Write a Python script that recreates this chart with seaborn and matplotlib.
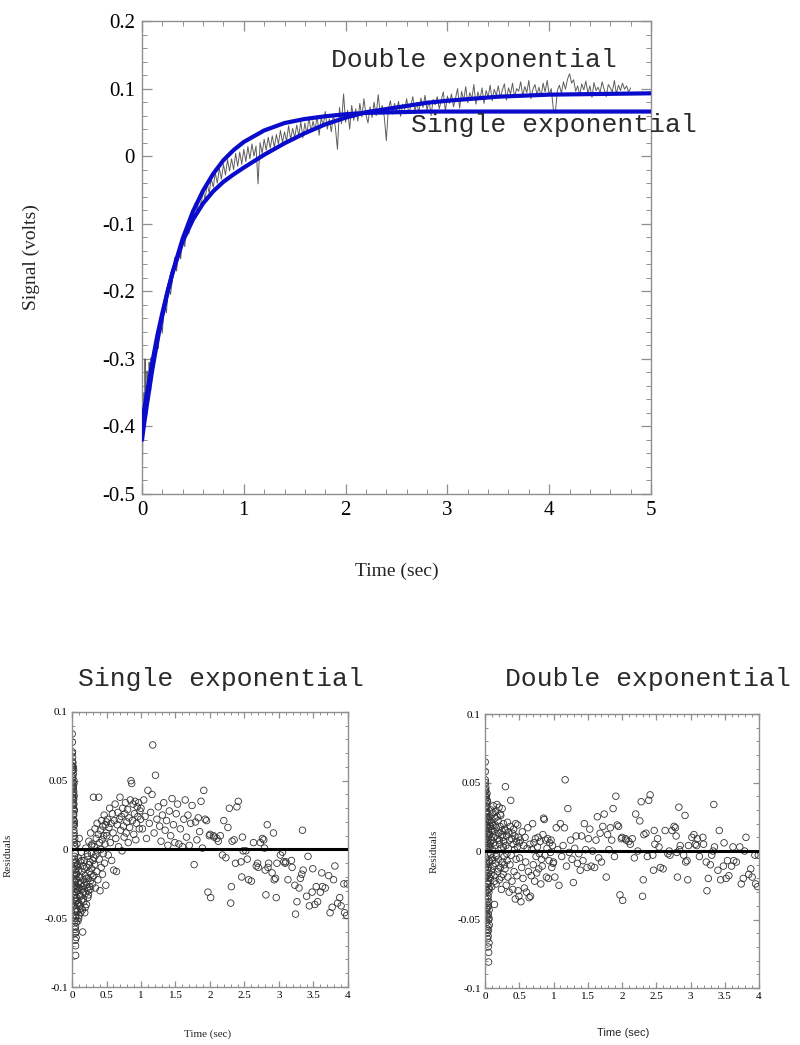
import matplotlib
matplotlib.use("Agg")
import matplotlib.pyplot as plt
import seaborn as sns
import pandas as pd
from matplotlib.ticker import MultipleLocator, FuncFormatter

# ---------------- top panel: recorded signal ----------------
sig_t = [0.000, 0.005, 0.010, 0.015, 0.020, 0.025, 0.030, 0.035, 0.040, 0.045,
         0.050, 0.055, 0.060, 0.065, 0.070, 0.075, 0.080, 0.085, 0.090, 0.095,
         0.10, 0.12, 0.14, 0.16, 0.18, 0.20, 0.22, 0.24, 0.26, 0.28,
         0.30, 0.32, 0.34, 0.36, 0.38, 0.40, 0.42, 0.44, 0.46, 0.48,
         0.50, 0.52, 0.54, 0.56, 0.58, 0.60, 0.62, 0.64, 0.66, 0.68,
         0.70, 0.72, 0.74, 0.76, 0.78, 0.80, 0.82, 0.84, 0.86, 0.88,
         0.90, 0.92, 0.94, 0.96, 0.98, 1.00, 1.02, 1.04, 1.06, 1.08,
         1.10, 1.12, 1.14, 1.16, 1.18, 1.20, 1.22, 1.24, 1.26, 1.28,
         1.30, 1.32, 1.34, 1.36, 1.38, 1.40, 1.42, 1.44, 1.46, 1.48,
         1.50, 1.52, 1.54, 1.56, 1.58, 1.60, 1.62, 1.64, 1.66, 1.68,
         1.70, 1.72, 1.74, 1.76, 1.78, 1.80, 1.82, 1.84, 1.86, 1.88,
         1.90, 1.92, 1.94, 1.96, 1.98, 2.00, 2.02, 2.04, 2.06, 2.08,
         2.10, 2.12, 2.14, 2.16, 2.18, 2.20, 2.22, 2.24, 2.26, 2.28,
         2.30, 2.32, 2.34, 2.36, 2.38, 2.40, 2.42, 2.44, 2.46, 2.48,
         2.50, 2.52, 2.54, 2.56, 2.58, 2.60, 2.62, 2.64, 2.66, 2.68,
         2.70, 2.72, 2.74, 2.76, 2.78, 2.80, 2.82, 2.84, 2.86, 2.88,
         2.90, 2.92, 2.94, 2.96, 2.98, 3.00, 3.02, 3.04, 3.06, 3.08,
         3.10, 3.12, 3.14, 3.16, 3.18, 3.20, 3.22, 3.24, 3.26, 3.28,
         3.30, 3.32, 3.34, 3.36, 3.38, 3.40, 3.42, 3.44, 3.46, 3.48,
         3.50, 3.52, 3.54, 3.56, 3.58, 3.60, 3.62, 3.64, 3.66, 3.68,
         3.70, 3.72, 3.74, 3.76, 3.78, 3.80, 3.82, 3.84, 3.86, 3.88,
         3.90, 3.92, 3.94, 3.96, 3.98, 4.00, 4.02, 4.04, 4.06, 4.08,
         4.10, 4.12, 4.14, 4.16, 4.18, 4.20, 4.22, 4.24, 4.26, 4.28,
         4.30, 4.32, 4.34, 4.36, 4.38, 4.40, 4.42, 4.44, 4.46, 4.48,
         4.50, 4.52, 4.54, 4.56, 4.58, 4.60, 4.62, 4.64, 4.66, 4.68,
         4.70, 4.72, 4.74, 4.76, 4.78, 4.80]
sig_v = [-0.395, -0.455, -0.372, -0.418, -0.350, -0.390, -0.300, -0.362, -0.341, -0.385,
         -0.318, -0.355, -0.330, -0.362, -0.305, -0.338, -0.320, -0.347, -0.298, -0.330,
         -0.298, -0.312, -0.270, -0.285, -0.240, -0.262, -0.215, -0.232, -0.190, -0.205,
         -0.182, -0.150, -0.170, -0.135, -0.152, -0.118, -0.134, -0.100, -0.115, -0.090,
         -0.095, -0.070, -0.085, -0.060, -0.076, -0.048, -0.066, -0.040, -0.055, -0.033,
         -0.046, -0.025, -0.040, -0.018, -0.034, -0.012, -0.028, -0.005, -0.022, -0.004,
         -0.020, 0.004, -0.015, 0.006, -0.012, 0.010, -0.008, 0.014, -0.004, 0.018,
         0.000, 0.015, -0.041, 0.020, 0.004, 0.025, 0.009, 0.028, 0.012, 0.030,
         0.013, 0.032, 0.018, 0.038, 0.020, 0.036, 0.022, 0.045, 0.025, 0.041,
         0.028, 0.046, 0.030, 0.051, 0.027, 0.049, 0.033, 0.058, 0.036, 0.052,
         0.038, 0.060, 0.031, 0.057, 0.045, 0.066, 0.040, 0.055, 0.036, 0.062,
         0.042, 0.010, 0.072, 0.048, 0.092, 0.050, 0.068, 0.040, 0.075, 0.053,
         0.070, 0.052, 0.078, 0.058, 0.085, 0.061, 0.049, 0.073, 0.057, 0.080,
         0.060, 0.091, 0.064, 0.075, 0.058, 0.023, 0.070, 0.082, 0.062, 0.078,
         0.066, 0.081, 0.059, 0.077, 0.069, 0.085, 0.063, 0.074, 0.088, 0.067,
         0.079, 0.064, 0.086, 0.072, 0.090, 0.068, 0.082, 0.060, 0.084, 0.076,
         0.088, 0.070, 0.083, 0.095, 0.066, 0.089, 0.078, 0.092, 0.073, 0.086,
         0.100, 0.071, 0.096, 0.082, 0.103, 0.079, 0.094, 0.085, 0.106, 0.077,
         0.095, 0.084, 0.101, 0.078, 0.097, 0.088, 0.105, 0.082, 0.099, 0.090,
         0.104, 0.086, 0.098, 0.107, 0.083, 0.101, 0.092, 0.108, 0.087, 0.100,
         0.096, 0.110, 0.089, 0.103, 0.094, 0.112, 0.085, 0.099, 0.106, 0.091,
         0.102, 0.088, 0.108, 0.095, 0.112, 0.091, 0.100, 0.070, 0.064, 0.097,
         0.105, 0.093, 0.110, 0.099, 0.114, 0.122, 0.108, 0.113, 0.096, 0.104,
         0.090, 0.107, 0.098, 0.111, 0.093, 0.104, 0.087, 0.109, 0.097, 0.102,
         0.094, 0.110, 0.099, 0.088, 0.106, 0.101, 0.095, 0.112, 0.092, 0.105,
         0.097, 0.108, 0.099, 0.104, 0.095, 0.101]

# fitted curves
fit_t = [0.0, 0.02, 0.05, 0.1, 0.15, 0.2, 0.25, 0.3, 0.4, 0.5,
         0.6, 0.7, 0.8, 0.9, 1.0, 1.2, 1.4, 1.6, 1.8, 2.0,
         2.2, 2.5, 2.8, 3.0, 3.5, 4.0, 4.5, 5.0]
fit_single = [-0.420, -0.397, -0.366, -0.317, -0.274, -0.236, -0.202, -0.172, -0.122, -0.082,
              -0.051, -0.026, -0.006, 0.009, 0.021, 0.038, 0.049, 0.055, 0.059, 0.062,
              0.064, 0.065, 0.066, 0.066, 0.066, 0.066, 0.066, 0.066]
fit_double = [-0.393, -0.376, -0.350, -0.306, -0.266, -0.232, -0.201, -0.173, -0.126, -0.094,
              -0.070, -0.052, -0.038, -0.027, -0.017, 0.002, 0.019, 0.034, 0.047, 0.057,
              0.065, 0.072, 0.079, 0.082, 0.088, 0.091, 0.092, 0.093]

# ---------------- residuals (shared sample times) ----------------
res_t = [0.003, 0.004, 0.005, 0.006, 0.007, 0.008, 0.009, 0.010, 0.011, 0.012,
         0.013, 0.014, 0.015, 0.016, 0.017, 0.018, 0.019, 0.020, 0.021, 0.022,
         0.023, 0.024, 0.025, 0.026, 0.027, 0.028, 0.029, 0.030, 0.031, 0.032,
         0.033, 0.034, 0.035, 0.036, 0.037, 0.038, 0.039, 0.040, 0.041, 0.042,
         0.043, 0.044, 0.045, 0.046, 0.047, 0.048, 0.049, 0.050, 0.051, 0.052,
         0.053, 0.054, 0.055, 0.056, 0.057, 0.058, 0.059, 0.060, 0.061, 0.062,
         0.065, 0.068, 0.071, 0.074, 0.077, 0.080, 0.083, 0.086, 0.089, 0.092,
         0.095, 0.098, 0.101, 0.104, 0.107, 0.110,
         0.114, 0.118, 0.122, 0.126, 0.130, 0.134, 0.138, 0.142, 0.146, 0.150,
         0.154, 0.158, 0.162, 0.166, 0.170,
         0.175, 0.180, 0.185, 0.190, 0.195, 0.200, 0.205, 0.210, 0.215, 0.220,
         0.225, 0.230, 0.235, 0.240, 0.245, 0.250, 0.255, 0.260, 0.265, 0.270,
         0.275, 0.280,
         0.286, 0.292, 0.298, 0.304, 0.310, 0.316, 0.322, 0.328, 0.334, 0.340,
         0.346, 0.352, 0.358, 0.364, 0.370, 0.376, 0.382, 0.388, 0.394, 0.400,
         0.406, 0.412, 0.418, 0.424, 0.430, 0.436, 0.442, 0.448, 0.454, 0.460,
         0.466, 0.472, 0.478, 0.484, 0.490, 0.495, 0.500,
         0.505, 0.515, 0.525, 0.535, 0.545, 0.555, 0.565, 0.575, 0.585, 0.595,
         0.605, 0.615, 0.625, 0.635, 0.645, 0.655, 0.665, 0.675, 0.685, 0.695,
         0.705, 0.715, 0.725, 0.735, 0.745, 0.755, 0.765, 0.775, 0.785, 0.795,
         0.805, 0.815, 0.825, 0.835, 0.845, 0.855, 0.865, 0.875, 0.885, 0.895,
         0.905, 0.915, 0.925, 0.935, 0.945, 0.955, 0.965, 0.975, 0.985, 0.995,
         1.00, 1.02, 1.04, 1.06, 1.08, 1.10, 1.12, 1.14, 1.16, 1.17,
         1.19, 1.21, 1.23, 1.25, 1.27, 1.29, 1.31, 1.33, 1.35, 1.37,
         1.39, 1.41, 1.43, 1.45, 1.47, 1.49, 1.51, 1.53, 1.55, 1.57,
         1.60, 1.62, 1.64, 1.66, 1.68, 1.70, 1.72, 1.74, 1.77, 1.79,
         1.81, 1.83, 1.85, 1.87, 1.89, 1.91, 1.93, 1.95, 1.97, 1.99,
         2.00, 2.01, 2.05, 2.06, 2.10, 2.12, 2.15, 2.18, 2.20, 2.23,
         2.26, 2.28, 2.30, 2.31, 2.32, 2.35, 2.37, 2.39, 2.41, 2.45,
         2.46, 2.47, 2.48, 2.52, 2.54, 2.56, 2.60, 2.63, 2.67, 2.69,
         2.70, 2.73, 2.76, 2.78, 2.79, 2.80, 2.81, 2.83, 2.84, 2.85,
         2.90, 2.92, 2.93, 2.95, 2.96, 2.97, 3.02, 3.05, 3.07, 3.09,
         3.10, 3.13, 3.18, 3.19, 3.23, 3.24, 3.26, 3.29, 3.31, 3.33,
         3.34, 3.35, 3.40, 3.42, 3.44, 3.48, 3.49, 3.52, 3.54, 3.56,
         3.60, 3.62, 3.63, 3.67, 3.72, 3.74, 3.77, 3.79, 3.81, 3.85,
         3.88, 3.90, 3.94, 3.95, 3.98, 3.99,
         0.0035, 0.0055, 0.0075, 0.0095, 0.0115, 0.0135, 0.0155, 0.0175, 0.0195, 0.0215,
         0.0235, 0.0255, 0.0275, 0.0295, 0.0315, 0.0335, 0.0355, 0.0375, 0.0395, 0.0415,
         0.0435, 0.0455, 0.0475, 0.0495, 0.0515, 0.0535, 0.0555, 0.0575, 0.0595, 0.0615,
         0.072, 0.079, 0.088, 0.097, 0.106, 0.116, 0.128, 0.140, 0.152, 0.164,
         0.177, 0.192, 0.207, 0.222, 0.237, 0.252, 0.268, 0.283, 0.301, 0.319]

res_single = [0.084, 0.061, 0.078, 0.052, 0.071, 0.045, 0.067, 0.058, 0.038, 0.063,
              0.049, 0.034, 0.060, 0.041, 0.022, 0.055, 0.030, 0.046, 0.019, 0.036,
              0.058, 0.025, 0.042, 0.014, 0.033, 0.050, 0.021, 0.010, 0.039, 0.028,
              0.005, -0.012, 0.018, -0.027, -0.005, -0.041, 0.008, -0.019, -0.052, -0.033,
              0.002, -0.061, -0.024, -0.045, -0.010, -0.066, -0.036, -0.003, -0.056, -0.029,
              -0.077, -0.014, -0.048, -0.038, -0.060, -0.021, -0.043, -0.031, -0.053, -0.017,
              -0.018, -0.035, 0.004, -0.027, -0.045, -0.011, -0.030, -0.052, -0.006, -0.024,
              -0.039, -0.015, -0.048, 0.008, -0.028, -0.041,
              -0.020, -0.033, -0.009, -0.046, -0.025, -0.002, -0.037, -0.016, -0.029, -0.044,
              -0.060, -0.012, -0.031, -0.022, -0.038,
              -0.026, -0.008, -0.046, -0.019, -0.032, 0.001, -0.024, -0.040, -0.013, -0.028,
              -0.005, -0.035, -0.021, -0.030, 0.006, -0.016, -0.027, -0.009, -0.023, 0.012,
              -0.018, -0.003,
              -0.014, 0.004, -0.025, -0.008, 0.038, -0.019, 0.002, -0.011, 0.015, -0.028,
              -0.004, 0.008, -0.016, 0.019, -0.001, -0.022, 0.011, 0.038, -0.007, 0.005,
              -0.030, 0.014, 0.000, -0.013, 0.021, 0.007, -0.018, 0.017, -0.003, 0.010,
              0.025, -0.010, 0.004, 0.018, -0.026, 0.012, 0.020,
              0.010, 0.022, -0.004, 0.016, 0.030, 0.005, 0.019, -0.008, 0.026, 0.012,
              -0.015, 0.021, 0.033, 0.008, -0.016, 0.018, 0.027, 0.002, 0.022, 0.038,
              0.014, 0.024, -0.001, 0.030, 0.017, 0.009, 0.026, 0.034, 0.012, 0.020,
              0.029, 0.005, 0.023, 0.016, 0.036, 0.050, 0.048, 0.021, 0.033, 0.011,
              0.026, 0.035, 0.007, 0.019, 0.031, 0.024, 0.034, 0.015, 0.028, 0.022,
              0.030, 0.015, 0.036, 0.024, 0.008, 0.043, 0.019, 0.027, 0.040, 0.076,
              0.012, 0.054, 0.022, 0.031, 0.017, 0.006, 0.025, 0.034, 0.014, 0.021,
              0.003, 0.028, 0.010, 0.037, 0.018, 0.005, 0.026, 0.033, 0.004, 0.015,
              0.002, 0.022, 0.036, 0.009, 0.025, 0.003, 0.019, 0.032, -0.011, 0.020,
              0.007, 0.023, 0.013, 0.035, 0.001, 0.043, 0.022, 0.021, -0.031, 0.010,
              0.011, -0.035, 0.010, 0.009, 0.008, 0.006, 0.010, -0.004, 0.021, -0.006,
              0.016, 0.030, -0.039, -0.027, 0.006, 0.007, -0.010, 0.031, 0.035, -0.009,
              -0.020, 0.009, -0.001, -0.001, -0.007, -0.022, -0.023, 0.005, -0.012, -0.010,
              -0.013, 0.005, 0.008, 0.007, 0.001, -0.015, -0.033, 0.018, -0.013, -0.010,
              -0.017, 0.012, -0.022, -0.021, -0.035, -0.010, -0.004, -0.002, -0.009, -0.010,
              -0.009, -0.022, -0.008, -0.013, -0.026, -0.047, -0.038, -0.028, -0.021, -0.018,
              0.014, -0.015, -0.034, -0.005, -0.041, -0.031, -0.014, -0.040, -0.027, -0.038,
              -0.031, -0.017, -0.027, -0.028, -0.019, -0.046, -0.042, -0.022, -0.012, -0.039,
              -0.035, -0.041, -0.025, -0.046, -0.048, -0.025,
              0.070, 0.057, 0.064, 0.047, 0.053, 0.040, 0.060, 0.032, 0.044, 0.026,
              0.037, 0.017, 0.048, 0.012, 0.029, -0.007, 0.020, -0.023, 0.003, -0.035,
              -0.015, -0.058, -0.026, -0.044, -0.070, -0.009, -0.050, -0.037, -0.064, -0.022,
              -0.012, -0.040, -0.028, -0.050, -0.020, -0.034, -0.043, -0.008, -0.027, -0.036,
              -0.014, -0.042, -0.021, -0.003, -0.033, -0.011, -0.029, 0.003, -0.020, -0.006]

res_double = [0.065, 0.058, 0.031, -0.012, 0.050, 0.044, -0.035, 0.022, 0.047, -0.005,
              0.038, 0.015, -0.026, 0.041, 0.028, -0.044, 0.035, 0.009, -0.018, 0.025,
              -0.052, 0.032, 0.004, -0.038, 0.019, -0.009, 0.042, -0.029, 0.012, -0.060,
              0.027, -0.048, 0.006, -0.022, 0.036, -0.064, -0.014, 0.017, -0.041, -0.002,
              -0.055, 0.023, -0.033, -0.070, 0.010, -0.046, -0.024, 0.003, -0.058, -0.081,
              -0.016, -0.037, 0.014, -0.050, -0.030, -0.067, -0.007, -0.043, -0.027, -0.054,
              0.012, -0.008, 0.025, 0.003, -0.020, 0.018, -0.002, 0.030, -0.014, 0.008,
              0.021, -0.026, 0.015, -0.005, 0.027, 0.001,
              0.019, -0.011, 0.033, 0.006, -0.018, 0.014, -0.039, 0.024, 0.004, -0.009,
              0.029, 0.011, -0.024, 0.017, -0.003,
              0.034, 0.009, -0.015, 0.022, -0.006, 0.013, 0.032, -0.021, 0.005, 0.018,
              -0.012, 0.026, 0.002, -0.028, 0.015, 0.031, -0.008, 0.010, -0.017, 0.020,
              0.007, -0.004,
              0.016, -0.013, 0.047, 0.004, -0.025, 0.011, -0.007, 0.021, -0.019, 0.002,
              0.014, -0.030, 0.008, -0.010, 0.018, 0.037, -0.003, 0.009, -0.022, 0.013,
              -0.028, 0.005, 0.016, -0.015, 0.001, 0.011, -0.035, 0.020, -0.006, 0.007,
              -0.018, 0.003, 0.019, -0.029, 0.010, -0.033, 0.006,
              -0.005, 0.008, -0.037, -0.012, 0.014, -0.020, 0.004, -0.027, 0.010, -0.008,
              -0.030, 0.002, 0.017, -0.015, -0.034, 0.005, -0.033, -0.018, 0.001, 0.020,
              -0.010, 0.006, -0.022, 0.009, -0.004, -0.016, 0.003, 0.010, -0.013, -0.002,
              0.007, -0.024, -0.006, -0.011, 0.012, 0.024, 0.023, -0.003, 0.008, -0.019,
              0.002, 0.009, -0.020, -0.007, 0.006, -0.001, 0.008, -0.012, 0.004, -0.009,
              -0.008, -0.019, 0.017, 0.001, -0.025, 0.020, -0.004, 0.004, 0.017, 0.052,
              -0.011, 0.031, -0.001, 0.008, -0.006, -0.023, 0.002, 0.011, -0.009, -0.002,
              -0.014, 0.011, -0.007, 0.020, 0.001, -0.012, 0.009, 0.016, -0.011, 0.000,
              -0.012, 0.008, 0.025, -0.005, 0.013, -0.008, 0.018, 0.027, -0.019, 0.012,
              0.001, 0.017, 0.008, 0.031, -0.004, 0.040, 0.019, 0.018, -0.032, 0.009,
              0.010, -0.036, 0.009, 0.008, 0.007, 0.005, 0.009, -0.005, 0.027, 0.000,
              0.022, 0.036, -0.033, -0.021, 0.012, 0.013, -0.004, 0.037, 0.041, -0.003,
              -0.014, 0.015, 0.005, 0.009, 0.003, -0.012, -0.013, 0.015, -0.002, 0.000,
              -0.003, 0.015, 0.018, 0.017, 0.011, -0.001, -0.019, 0.032, 0.001, 0.004,
              -0.003, 0.026, -0.008, -0.007, -0.021, 0.004, 0.010, 0.012, 0.005, 0.004,
              0.009, -0.004, 0.010, 0.005, -0.008, -0.029, -0.020, -0.010, -0.003, 0.000,
              0.034, 0.003, -0.014, 0.015, -0.021, -0.011, 0.006, -0.020, -0.007, -0.018,
              -0.011, 0.003, -0.007, -0.008, 0.003, -0.024, -0.020, 0.000, 0.010, -0.017,
              -0.013, -0.019, -0.003, -0.024, -0.026, -0.003,
              0.052, 0.040, -0.020, 0.033, 0.045, -0.030, 0.018, 0.039, -0.010, 0.029,
              -0.042, 0.024, 0.007, -0.047, 0.037, -0.024, 0.013, -0.057, 0.001, -0.035,
              0.021, -0.062, -0.012, -0.040, 0.016, -0.074, -0.028, -0.049, 0.005, -0.019,
              0.022, 0.006, -0.017, 0.016, -0.007, 0.028, 0.010, -0.022, 0.019, -0.004,
              0.025, -0.013, 0.008, 0.027, -0.019, 0.012, 0.003, -0.010, 0.015, -0.002]

# ---------------- drawing ----------------
sns.set_theme(style="ticks")
plt.rcParams['font.family'] = ['Liberation Serif', 'DejaVu Serif']
plt.rcParams['axes.unicode_minus'] = False

BLUE = "#0b0bcc"
FRAME = "#8f8f8f"
MONO = ['Liberation Mono', 'DejaVu Sans Mono']

fig = plt.figure(figsize=(8, 10.45), dpi=100)
ax = fig.add_axes([0.1775, 0.5273, 0.63625, 0.4526])
ax_l = fig.add_axes([0.09, 0.0555, 0.345, 0.2632])
ax_r = fig.add_axes([0.60625, 0.0545, 0.3425, 0.2622])

fmt = FuncFormatter(lambda v, _: '0' if abs(v) < 1e-9 else f'{v:g}')


def style(a, xmaj, xmin, ymaj, ymin, size, majlen, minlen, pad):
    for s in a.spines.values():
        s.set_color(FRAME)
        s.set_linewidth(1.0)
    a.xaxis.set_major_locator(MultipleLocator(xmaj))
    a.xaxis.set_minor_locator(MultipleLocator(xmin))
    a.yaxis.set_major_locator(MultipleLocator(ymaj))
    a.yaxis.set_minor_locator(MultipleLocator(ymin))
    a.xaxis.set_major_formatter(fmt)
    a.yaxis.set_major_formatter(fmt)
    a.tick_params(which='both', direction='in', top=True, right=True,
                  color=FRAME, labelcolor='black', labelsize=size, pad=pad)
    a.tick_params(which='major', length=majlen, width=0.9)
    a.tick_params(which='minor', length=minlen, width=0.7)


# top panel
sig_df = pd.DataFrame({'t': sig_t, 'v': sig_v})
fit_df = pd.DataFrame({'t': fit_t, 'single': fit_single, 'double': fit_double})
sns.lineplot(data=sig_df, x='t', y='v', ax=ax, estimator=None, sort=False,
             color='#5e5e5e', linewidth=0.7, zorder=2)
sns.lineplot(data=fit_df, x='t', y='single', ax=ax, estimator=None, sort=False,
             color=BLUE, linewidth=3.0, zorder=3)
sns.lineplot(data=fit_df, x='t', y='double', ax=ax, estimator=None, sort=False,
             color=BLUE, linewidth=3.0, zorder=3)
ax.set_xlim(0, 5)
ax.set_ylim(-0.5, 0.2)
style(ax, 1, 0.2, 0.1, 0.02, 15, 7, 3.5, 5)
ax.set_xlabel('Time (sec)', fontsize=14)
ax.set_ylabel('Signal (volts)', fontsize=14)
ax.xaxis.set_label_coords(0.5, -0.146)
ax.yaxis.set_label_coords(-0.20, 0.5)
ax.text(1.86, 0.142, 'Double exponential', family=MONO, fontsize=19,
        ha='left', va='center', color='#2a2a2a')
ax.text(2.64, 0.046, 'Single exponential', family=MONO, fontsize=19,
        ha='left', va='center', color='#2a2a2a', clip_on=False)

# residual panels
res_df = pd.DataFrame({'t': res_t, 'single': res_single, 'double': res_double})
for a, col in ((ax_l, 'single'), (ax_r, 'double')):
    sns.scatterplot(data=res_df, x='t', y=col, ax=a, color='#333333',
                    facecolor='none', edgecolor='#333333', s=22,
                    linewidth=0.6, zorder=2)
    a.axhline(0, color='black', linewidth=2.2, zorder=3)
    a.set_xlim(0, 4)
    a.set_ylim(-0.1, 0.1)
    style(a, 0.5, 0.1, 0.05, 0.01, 8, 4, 2, 3)
    a.set_ylabel('Residuals', fontsize=8)

ax_l.set_xlabel('Time (sec)', fontsize=8)
ax_r.set_xlabel('Time (sec)', fontsize=8, family=['Liberation Sans', 'DejaVu Sans'])
ax_l.xaxis.set_label_coords(0.49, -0.153)
ax_r.xaxis.set_label_coords(0.504, -0.146)
ax_l.yaxis.set_label_coords(-0.214, 0.48)
ax_r.yaxis.set_label_coords(-0.168, 0.5)

fig.text(0.276, 0.350, 'Single exponential', family=MONO, fontsize=19,
         ha='center', va='center', color='#2a2a2a')
fig.text(0.810, 0.350, 'Double exponential', family=MONO, fontsize=19,
         ha='center', va='center', color='#2a2a2a')

fig.savefig('out.png', dpi=100)
